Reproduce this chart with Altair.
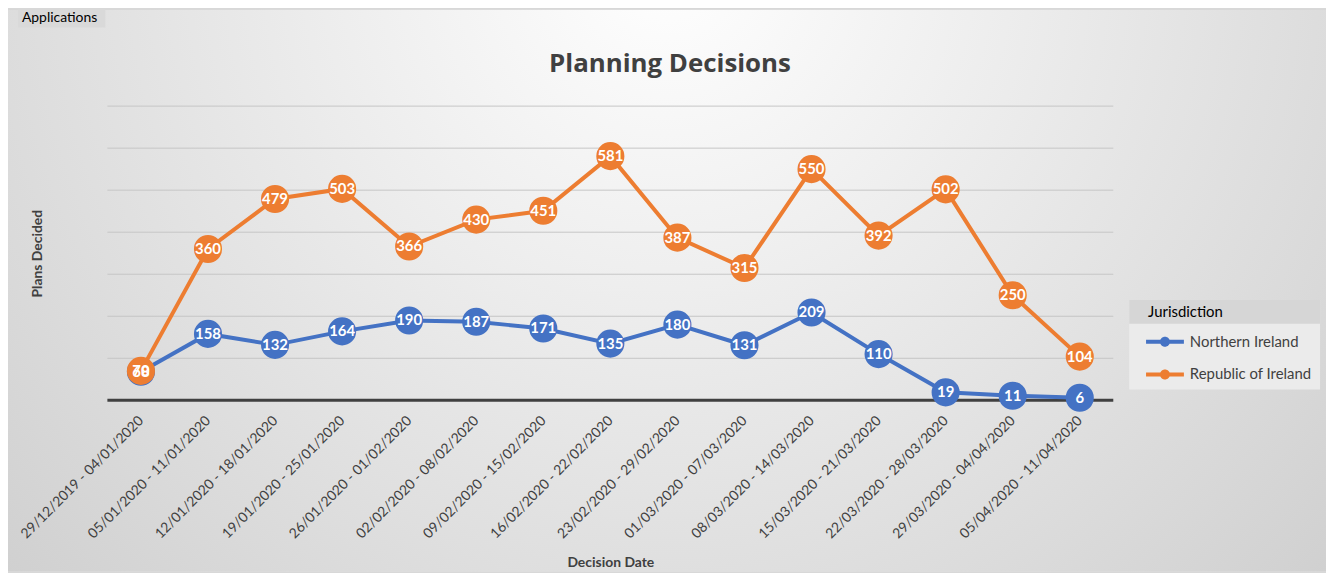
import altair as alt
import pandas as pd

weeks = [
    "29/12/2019 - 04/01/2020", "05/01/2020 - 11/01/2020", "12/01/2020 - 18/01/2020",
    "19/01/2020 - 25/01/2020", "26/01/2020 - 01/02/2020", "02/02/2020 - 08/02/2020",
    "09/02/2020 - 15/02/2020", "16/02/2020 - 22/02/2020", "23/02/2020 - 29/02/2020",
    "01/03/2020 - 07/03/2020", "08/03/2020 - 14/03/2020", "15/03/2020 - 21/03/2020",
    "22/03/2020 - 28/03/2020", "29/03/2020 - 04/04/2020", "05/04/2020 - 11/04/2020",
]
northern_ireland = [68, 158, 132, 164, 190, 187, 171, 135, 180, 131, 209, 110, 19, 11, 6]
republic_of_ireland = [70, 360, 479, 503, 366, 430, 451, 581, 387, 315, 550, 392, 502, 250, 104]
series = ["Northern Ireland", "Republic of Ireland"]
colors = ["#4472C4", "#ED7D31"]
grid_values = [100, 200, 300, 400, 500, 600, 700]

rows = []
for name, vals in zip(series, [northern_ireland, republic_of_ireland]):
    for w, v in zip(weeks, vals):
        rows.append({"week": w, "jurisdiction": name, "plans": v})
df = pd.DataFrame(rows)

FONT = "Lato"
W, H = 1012, 296
PAD = {"left": 100, "top": 97, "right": 214, "bottom": 172}
one = pd.DataFrame({"k": [0]})

legend_symbol = ("M-1.36,-0.14L1.36,-0.14L1.36,0.14L-1.36,0.14Z "
                 "M0.36,0A0.36,0.36,0,1,1,-0.36,0A0.36,0.36,0,1,1,0.36,0Z")

color = alt.Color(
    "jurisdiction:N",
    scale=alt.Scale(domain=series, range=colors),
    legend=alt.Legend(
        title="Jurisdiction", orient="none", legendX=1047, legendY=200,
        titleFont=FONT, titleFontSize=15, titleFontWeight="normal", titleColor="#000000",
        titlePadding=8, labelFont=FONT, labelFontSize=15, labelColor="#404040",
        symbolType=legend_symbol, symbolSize=784, symbolStrokeWidth=0,
        symbolOffset=3, labelOffset=11, rowPadding=11,
    ),
)
x = alt.X(
    "week:N", sort=weeks, scale=alt.Scale(type="point", padding=0.5),
    axis=alt.Axis(
        labelAngle=315, labelAlign="right", labelBaseline="middle", labelFont=FONT,
        labelFontSize=14, labelColor="#404040", labelPadding=18, labelOverlap=False,
        labelLimit=0, ticks=False, domain=False, zindex=1,
        titleFont=FONT, titleFontSize=14, titleFontWeight="bold", titleColor="#404040",
        titleY=156, grid=False,
    ),
    title="Decision Date",
)
y = alt.Y(
    "plans:Q", scale=alt.Scale(domain=[0, 700]),
    axis=alt.Axis(
        labels=False, ticks=False, domain=False, grid=False, zindex=1,
        titleFont=FONT, titleFontSize=14, titleFontWeight="bold", titleColor="#404040",
        titlePadding=63,
    ),
    title="Plans Decided",
)

bg = alt.Chart(one).mark_rect(
    fill=alt.RadialGradient(
        gradient="radial",
        stops=[alt.GradientStop(color="#ffffff", offset=0),
               alt.GradientStop(color="#c8c8c8", offset=1)],
        x1=0.5, y1=0.25, x2=0.5, y2=0.25, r1=0, r2=0.8,
    )
).encode(x=alt.value(-PAD["left"]), x2=alt.value(W + PAD["right"]),
         y=alt.value(-PAD["top"]), y2=alt.value(H + PAD["bottom"]))

title = alt.Chart(one).mark_text(
    text="Planning Decisions", font="Open Sans", fontSize=26, fontWeight="bold", color="#404040",
    align="center", baseline="middle"
).encode(x=alt.value(566), y=alt.value(-42))

app_box = alt.Chart(one).mark_rect(fill="#d9d9d9").encode(
    x=alt.value(-90), x2=alt.value(-2), y=alt.value(-97), y2=alt.value(-79))
app_text = alt.Chart(one).mark_text(
    text="Applications", font=FONT, fontSize=14, color="#000000", align="left", baseline="middle"
).encode(x=alt.value(-86), y=alt.value(-89))

leg_box = alt.Chart(one).mark_rect(fill="#ebebeb").encode(
    x=alt.value(1028), x2=alt.value(1220), y=alt.value(195), y2=alt.value(285))
leg_band = alt.Chart(one).mark_rect(fill="#d6d6d6").encode(
    x=alt.value(1028), x2=alt.value(1220), y=alt.value(195), y2=alt.value(219))

grid = alt.Chart(pd.DataFrame({"v": grid_values})).mark_rule(
    color="#c6c6c6", strokeWidth=1
).encode(y=alt.Y("v:Q", scale=alt.Scale(domain=[0, 700])), x=alt.value(0), x2=alt.value(W))
zero = alt.Chart(pd.DataFrame({"v": [0]})).mark_rule(
    color="#404040", strokeWidth=3
).encode(y=alt.Y("v:Q", scale=alt.Scale(domain=[0, 700])), x=alt.value(0), x2=alt.value(W))

base = alt.Chart(df).encode(x=x, y=y, color=color)
line = base.mark_line(strokeWidth=4)
pts = base.mark_circle(size=800, opacity=1)
labels = base.mark_text(font=FONT, fontSize=15, fontWeight="bold", baseline="middle").encode(
    text="plans:Q", color=alt.value("white"))

chart = alt.layer(bg, title, app_box, app_text, leg_box, leg_band, grid, zero,
                  line, pts, labels).properties(
    width=W, height=H,
    autosize=alt.AutoSizeParams(type="none"),
    padding=PAD,
).configure_view(stroke=None).configure(background="#d8d8d8")

chart.save("out.html", embed_options={"renderer": "svg", "actions": False})
